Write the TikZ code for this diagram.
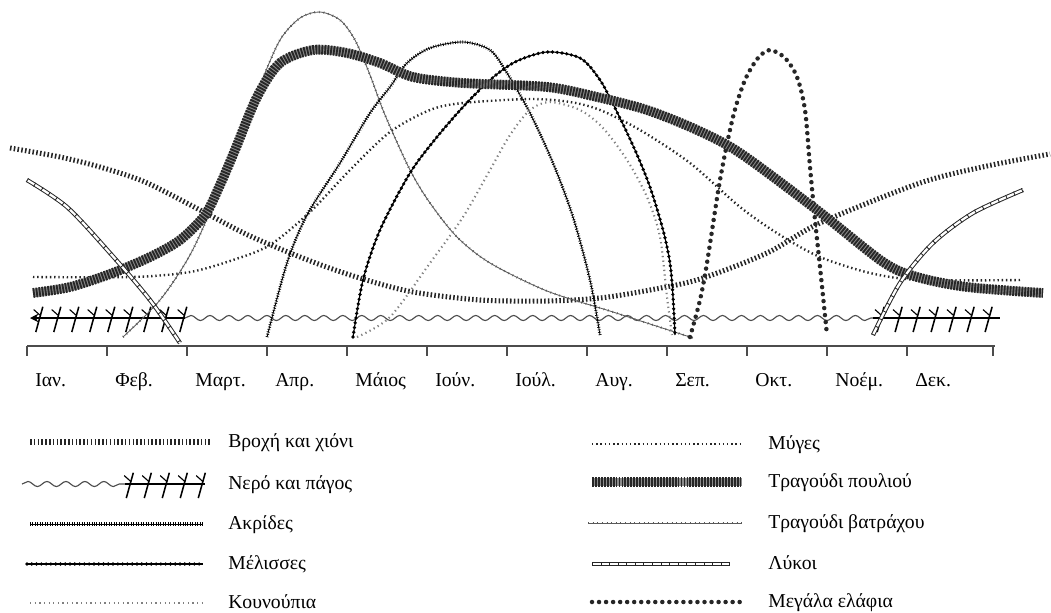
\documentclass[tikz,border=0pt]{standalone}
\usepackage{fontspec}
\setmainfont{Liberation Serif}
\usetikzlibrary{arrows.meta, decorations.pathmorphing, decorations.markings}
\tikzset{
    month/.style={anchor=base west, inner sep=0pt, font=\fontsize{14}{16}\selectfont},
    legtext/.style={anchor=base west, inner sep=0pt, font=\fontsize{14}{16}\selectfont},
    axisline/.style={draw=black!70, line width=0.9pt},
    rainline/.style={draw=black!85, line width=3.6pt, dash pattern=on 1.1pt off 1.6pt},
    birdline/.style={draw=black!85, line width=7pt, dash pattern=on 1.3pt off 0.8pt, preaction={draw=black!45, line width=6pt}},
    frogline/.style={draw=black!65, line width=0.6pt, postaction={draw, line width=1.6pt, dash pattern=on 0.5pt off 2.8pt}},
    hopperline/.style={draw=black, line width=0.6pt, postaction={draw, line width=2.2pt, dash pattern=on 0.45pt off 1.3pt}},
    beeline/.style={draw=black, line width=0.8pt, postaction={draw, line width=2.6pt, line cap=round, dash pattern=on 0pt off 3.4pt}},
    mosqline/.style={draw=black!50, line width=1.5pt, dash pattern=on 0.9pt off 2.4pt},
    flyline/.style={draw=black!85, line width=1.7pt, dash pattern=on 1pt off 2pt},
    deerline/.style={draw=black!85, line width=3.2pt, line cap=round, dash pattern=on 0pt off 5pt},
    wolfline/.style={draw=black!85, line width=0.7pt, double=white, double distance=1.6pt, postaction={draw=black!85, line width=3pt, dash pattern=on 0.6pt off 5.5pt}},
    waterline/.style={draw=black!70, line width=0.8pt, decorate, decoration={snake, segment length=13.5pt, amplitude=1.8pt}},
    iceline/.style={draw=black, line width=0.8pt, postaction={decorate, decoration={markings, mark=between positions 0.06 and 1 step 12.8pt with {\draw[-, line width=1.1pt] (2.5pt,8pt) -- (-2.5pt,-10pt); \draw[-, line width=0.8pt] (0.5pt,2pt) -- (-4pt,6pt);}}}}
}

\begin{document}
\begin{tikzpicture}[x=0.025cm, y=-0.025cm]
    \useasboundingbox (0,0) rectangle (1051,612);

    % month axis
    \draw[axisline] (27,346) -- (995,346);
    \foreach \i in {0,...,11}
        \draw[axisline] (27+80*\i,346) -- (27+80*\i,356);
    \draw[axisline] (993,346) -- (993,356);
    \foreach \m [count=\i from 0] in {Ιαν.,Φεβ.,Μαρτ.,Απρ.,Μάιος,Ιούν.,Ιούλ.,Αυγ.,Σεπ.,Οκτ.,Νοέμ.,Δεκ.}
        \node[month] (m\i) at (35+80*\i,386) {\m};

    % water and ice
    \draw[iceline, {Stealth[length=6pt, width=6pt]}-] (30,318) -- (185,318);
    \draw[waterline] (185,318) -- (873,318);
    \draw[iceline] (873,318) -- (1000,318);

    % curves
    \draw[rainline] plot[smooth, tension=0.5] coordinates {(10,148) (60,157) (100,167) (145,182) (200,210) (250,236) (313,262) (363,279) (413,292) (480,300) (547,301) (600,298) (650,290) (700,279) (767,253) (820,223) (920,183) (987,166) (1050,154)};
    \draw[flyline] plot[smooth, tension=0.5] coordinates {(33,277) (133,277) (190,272) (233,260) (270,245) (310,212) (350,170) (390,132) (430,110) (463,103) (530,99) (570,102) (600,110) (640,130) (690,163) (740,207) (780,235) (820,257) (870,273) (920,280) (1020,280)};
    \draw[frogline] plot[smooth, tension=0.5] coordinates {(123,337) (160,300) (190,255) (215,200) (240,135) (260,85) (280,40) (300,18) (320,12) (340,20) (355,40) (370,75) (385,115) (410,170) (430,203) (457,237) (490,263) (547,291) (613,312) (693,338)};
    \draw[hopperline] plot[smooth, tension=0.5] coordinates {(267,337) (287,263) (307,215) (340,163) (370,113) (390,87) (407,63) (430,48) (463,42) (490,50) (507,73) (530,113) (553,163) (573,217) (590,280) (600,335)};
    \draw[mosqline] plot[smooth, tension=0.5] coordinates {(357,337) (390,317) (430,263) (463,217) (490,170) (510,135) (530,110) (550,102) (580,110) (603,128) (627,160) (647,197) (660,237) (667,297) (672,335)};
    \draw[beeline] plot[smooth, tension=0.5] coordinates {(353,337) (363,280) (380,230) (410,173) (437,137) (463,107) (490,80) (515,62) (547,52) (580,58) (600,80) (617,112) (635,150) (650,187) (663,230) (670,263) (673,297) (675,335)};
    \draw[deerline] plot[smooth, tension=0.5] coordinates {(690,337) (700,300) (707,263) (720,180) (733,117) (745,80) (758,58) (770,50) (785,58) (797,77) (805,110) (810,167) (815,220) (820,267) (827,335)};
    \draw[birdline] plot[smooth, tension=0.5] coordinates {(33,293) (70,287) (110,274) (150,257) (180,240) (205,215) (220,185) (235,150) (257,97) (280,63) (313,50) (347,53) (380,63) (413,77) (463,83) (547,87) (597,97) (647,110) (697,130) (740,153) (817,210) (883,262) (917,277) (967,287) (1043,293)};
    \draw[wolfline] plot[smooth, tension=0.5] coordinates {(27,180) (67,207) (110,253) (150,300) (180,343)};
    \draw[wolfline] plot[smooth, tension=0.5] coordinates {(873,335) (900,283) (933,243) (973,213) (1023,190)};

    % legend, left column
    \node[legtext] (lrain) at (228,447) {Βροχή και χιόνι};
    \node[legtext] (lwater) at (228,489) {Νερό και πάγος};
    \node[legtext] (lhopper) at (228,529) {Ακρίδες};
    \node[legtext] (lbee) at (228,569) {Μέλισσες};
    \node[legtext] (lmosq) at (228,608) {Κουνούπια};
    \draw[rainline] (30,442) -- (210,442);
    \draw[waterline] (22,484) -- (125,484);
    \draw[iceline] (125,484) -- (205,484);
    \draw[hopperline] (30,524) -- (203,524);
    \draw[beeline] (27,564) -- (203,564);
    \draw[mosqline] (30,603) -- (203,603);

    % legend, right column
    \node[legtext] (lfly) at (768,449) {Μύγες};
    \node[legtext] (lbird) at (768,487) {Τραγούδι πουλιού};
    \node[legtext] (lfrog) at (768,528) {Τραγούδι βατράχου};
    \node[legtext] (lwolf) at (768,569) {Λύκοι};
    \node[legtext] (ldeer) at (768,607) {Μεγάλα ελάφια};
    \draw[flyline] (592,444) -- (740,444);
    \draw[birdline] (592,482) -- (742,482);
    \draw[frogline] (588,523) -- (742,523);
    \draw[wolfline] (592,564) -- (730,564);
    \draw[deerline] (592,602) -- (740,602);
\end{tikzpicture}
\end{document}
